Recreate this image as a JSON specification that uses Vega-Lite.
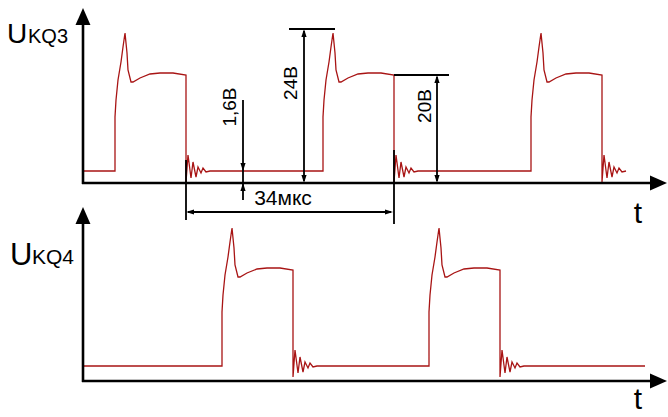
{
  "$schema": "https://vega.github.io/schema/vega-lite/v6.json",
  "width": 668,
  "height": 417,
  "autosize": {"type": "none"},
  "padding": 0,
  "background": "white",
  "config": {"view": {"stroke": null}, "legend": {"disable": true}},
  "datasets": {
    "wave": [
      {"s":"Q3","x":83,"y":171},
      {"s":"Q3","x":115,"y":171},{"s":"Q3","x":115,"y":117},{"s":"Q3","x":116,"y":100},{"s":"Q3","x":118,"y":80},{"s":"Q3","x":121,"y":62},{"s":"Q3","x":123,"y":47},{"s":"Q3","x":125,"y":33},{"s":"Q3","x":127,"y":53},{"s":"Q3","x":128,"y":70},{"s":"Q3","x":131,"y":82},{"s":"Q3","x":133,"y":82},{"s":"Q3","x":140,"y":78},{"s":"Q3","x":150,"y":74},{"s":"Q3","x":160,"y":73},{"s":"Q3","x":173,"y":73},{"s":"Q3","x":186,"y":75},{"s":"Q3","x":186,"y":182},{"s":"Q3","x":188,"y":155},{"s":"Q3","x":191,"y":178},{"s":"Q3","x":193,"y":162},{"s":"Q3","x":196,"y":177},{"s":"Q3","x":198,"y":167},{"s":"Q3","x":201,"y":173},{"s":"Q3","x":203,"y":168},{"s":"Q3","x":206,"y":172},{"s":"Q3","x":210,"y":171},
      {"s":"Q3","x":323,"y":171},{"s":"Q3","x":323,"y":117},{"s":"Q3","x":324,"y":100},{"s":"Q3","x":326,"y":80},{"s":"Q3","x":329,"y":62},{"s":"Q3","x":331,"y":47},{"s":"Q3","x":333,"y":33},{"s":"Q3","x":335,"y":53},{"s":"Q3","x":336,"y":70},{"s":"Q3","x":339,"y":82},{"s":"Q3","x":341,"y":82},{"s":"Q3","x":348,"y":78},{"s":"Q3","x":358,"y":74},{"s":"Q3","x":368,"y":73},{"s":"Q3","x":381,"y":73},{"s":"Q3","x":394,"y":75},{"s":"Q3","x":394,"y":182},{"s":"Q3","x":396,"y":155},{"s":"Q3","x":399,"y":178},{"s":"Q3","x":401,"y":162},{"s":"Q3","x":404,"y":177},{"s":"Q3","x":406,"y":167},{"s":"Q3","x":409,"y":173},{"s":"Q3","x":411,"y":168},{"s":"Q3","x":414,"y":172},{"s":"Q3","x":418,"y":171},
      {"s":"Q3","x":531,"y":171},{"s":"Q3","x":531,"y":117},{"s":"Q3","x":532,"y":100},{"s":"Q3","x":534,"y":80},{"s":"Q3","x":537,"y":62},{"s":"Q3","x":539,"y":47},{"s":"Q3","x":541,"y":33},{"s":"Q3","x":543,"y":53},{"s":"Q3","x":544,"y":70},{"s":"Q3","x":547,"y":82},{"s":"Q3","x":549,"y":82},{"s":"Q3","x":556,"y":78},{"s":"Q3","x":566,"y":74},{"s":"Q3","x":576,"y":73},{"s":"Q3","x":589,"y":73},{"s":"Q3","x":602,"y":75},{"s":"Q3","x":602,"y":182},{"s":"Q3","x":604,"y":155},{"s":"Q3","x":607,"y":178},{"s":"Q3","x":609,"y":162},{"s":"Q3","x":612,"y":177},{"s":"Q3","x":614,"y":167},{"s":"Q3","x":617,"y":173},{"s":"Q3","x":619,"y":168},{"s":"Q3","x":622,"y":172},{"s":"Q3","x":626,"y":171},
      {"s":"Q4","x":83,"y":366},
      {"s":"Q4","x":222,"y":366},{"s":"Q4","x":222,"y":312},{"s":"Q4","x":223,"y":295},{"s":"Q4","x":225,"y":275},{"s":"Q4","x":228,"y":257},{"s":"Q4","x":230,"y":242},{"s":"Q4","x":232,"y":228},{"s":"Q4","x":234,"y":248},{"s":"Q4","x":235,"y":265},{"s":"Q4","x":238,"y":277},{"s":"Q4","x":240,"y":277},{"s":"Q4","x":247,"y":273},{"s":"Q4","x":257,"y":269},{"s":"Q4","x":267,"y":268},{"s":"Q4","x":280,"y":268},{"s":"Q4","x":293,"y":270},{"s":"Q4","x":293,"y":377},{"s":"Q4","x":295,"y":350},{"s":"Q4","x":298,"y":373},{"s":"Q4","x":300,"y":357},{"s":"Q4","x":303,"y":372},{"s":"Q4","x":305,"y":362},{"s":"Q4","x":308,"y":368},{"s":"Q4","x":310,"y":363},{"s":"Q4","x":313,"y":367},{"s":"Q4","x":317,"y":366},
      {"s":"Q4","x":429,"y":366},{"s":"Q4","x":429,"y":312},{"s":"Q4","x":430,"y":295},{"s":"Q4","x":432,"y":275},{"s":"Q4","x":435,"y":257},{"s":"Q4","x":437,"y":242},{"s":"Q4","x":439,"y":228},{"s":"Q4","x":441,"y":248},{"s":"Q4","x":442,"y":265},{"s":"Q4","x":445,"y":277},{"s":"Q4","x":447,"y":277},{"s":"Q4","x":454,"y":273},{"s":"Q4","x":464,"y":269},{"s":"Q4","x":474,"y":268},{"s":"Q4","x":487,"y":268},{"s":"Q4","x":500,"y":270},{"s":"Q4","x":500,"y":377},{"s":"Q4","x":502,"y":350},{"s":"Q4","x":505,"y":373},{"s":"Q4","x":507,"y":357},{"s":"Q4","x":510,"y":372},{"s":"Q4","x":512,"y":362},{"s":"Q4","x":515,"y":368},{"s":"Q4","x":517,"y":363},{"s":"Q4","x":520,"y":367},{"s":"Q4","x":524,"y":366},
      {"s":"Q4","x":645,"y":366}
    ],
    "axes": [
      {"x":83,"y":20,"x2":83,"y2":184},
      {"x":82,"y":183,"x2":655,"y2":183},
      {"x":83,"y":218,"x2":83,"y2":382},
      {"x":82,"y":381,"x2":655,"y2":381}
    ],
    "dims": [
      {"x":243,"y":100,"x2":243,"y2":200},
      {"x":304,"y":31,"x2":304,"y2":181},
      {"x":289,"y":29,"x2":335,"y2":29},
      {"x":437,"y":77,"x2":437,"y2":181},
      {"x":394,"y":75,"x2":449,"y2":75},
      {"x":186,"y":160,"x2":186,"y2":220},
      {"x":394,"y":150,"x2":394,"y2":224},
      {"x":188,"y":212,"x2":391,"y2":212}
    ],
    "smallArrows": [
      {"x":243,"y":167,"dir":"down"},
      {"x":243,"y":187,"dir":"up"},
      {"x":304,"y":33,"dir":"up"},
      {"x":304,"y":179,"dir":"down"},
      {"x":437,"y":79,"dir":"up"},
      {"x":437,"y":179,"dir":"down"},
      {"x":190,"y":212,"dir":"left"},
      {"x":389,"y":212,"dir":"right"}
    ],
    "bigArrows": [
      {"x":83,"y":16.5,"dir":"bigup"},
      {"x":83,"y":215.5,"dir":"bigup"},
      {"x":658.5,"y":183,"dir":"bigright"},
      {"x":658.5,"y":381,"dir":"bigright"}
    ]
  },
  "layer": [
    {
      "data": {"name": "wave"},
      "mark": {"type": "line", "color": "#a81414", "strokeWidth": 1.3, "interpolate": "linear"},
      "encoding": {
        "x": {"field": "x", "type": "quantitative", "scale": {"domain": [0, 668], "nice": false, "zero": false}, "axis": null},
        "y": {"field": "y", "type": "quantitative", "scale": {"domain": [0, 417], "nice": false, "zero": false, "reverse": true}, "axis": null},
        "detail": {"field": "s", "type": "nominal"},
        "order": {"value": null}
      }
    },
    {
      "data": {"name": "axes"},
      "mark": {"type": "rule", "color": "black", "strokeWidth": 2.6},
      "encoding": {
        "x": {"field": "x", "type": "quantitative"},
        "y": {"field": "y", "type": "quantitative"},
        "x2": {"field": "x2"},
        "y2": {"field": "y2"}
      }
    },
    {
      "data": {"name": "dims"},
      "mark": {"type": "rule", "color": "black", "strokeWidth": 1.8},
      "encoding": {
        "x": {"field": "x", "type": "quantitative"},
        "y": {"field": "y", "type": "quantitative"},
        "x2": {"field": "x2"},
        "y2": {"field": "y2"}
      }
    },
    {
      "data": {"name": "smallArrows"},
      "mark": {"type": "point", "filled": true, "color": "black", "opacity": 1, "size": 64},
      "encoding": {
        "x": {"field": "x", "type": "quantitative"},
        "y": {"field": "y", "type": "quantitative"},
        "shape": {"field": "dir", "type": "nominal", "scale": {"domain": ["up", "down", "left", "right", "bigup", "bigright"], "range": ["M0,-1L-0.65,1L0.65,1Z", "M0,1L-0.65,-1L0.65,-1Z", "M-1,0L1,-0.65L1,0.65Z", "M1,0L-1,-0.65L-1,0.65Z", "M0,-1L-0.88,1L0.88,1Z", "M1,0L-1,-0.88L-1,0.88Z"]}, "legend": null}
      }
    },
    {
      "data": {"name": "bigArrows"},
      "mark": {"type": "point", "filled": true, "color": "black", "opacity": 1, "size": 289},
      "encoding": {
        "x": {"field": "x", "type": "quantitative"},
        "y": {"field": "y", "type": "quantitative"},
        "shape": {"field": "dir", "type": "nominal", "legend": null}
      }
    },
    {
      "data": {"values": [{"label": "U", "x": 7, "y": 43}]},
      "mark": {"type": "text", "font": "Liberation Sans", "fontSize": 28, "align": "left", "baseline": "alphabetic", "color": "black"},
      "encoding": {"x": {"field": "x", "type": "quantitative"}, "y": {"field": "y", "type": "quantitative"}, "text": {"field": "label"}}
    },
    {
      "data": {"values": [{"label": "KQ3", "x": 28, "y": 43}]},
      "mark": {"type": "text", "font": "Liberation Sans", "fontSize": 20, "align": "left", "baseline": "alphabetic", "color": "black"},
      "encoding": {"x": {"field": "x", "type": "quantitative"}, "y": {"field": "y", "type": "quantitative"}, "text": {"field": "label"}}
    },
    {
      "data": {"values": [{"label": "U", "x": 10, "y": 265}]},
      "mark": {"type": "text", "font": "Liberation Sans", "fontSize": 31, "align": "left", "baseline": "alphabetic", "color": "black"},
      "encoding": {"x": {"field": "x", "type": "quantitative"}, "y": {"field": "y", "type": "quantitative"}, "text": {"field": "label"}}
    },
    {
      "data": {"values": [{"label": "KQ4", "x": 32, "y": 264}]},
      "mark": {"type": "text", "font": "Liberation Sans", "fontSize": 21, "align": "left", "baseline": "alphabetic", "color": "black"},
      "encoding": {"x": {"field": "x", "type": "quantitative"}, "y": {"field": "y", "type": "quantitative"}, "text": {"field": "label"}}
    },
    {
      "data": {"values": [{"label": "34мкс", "x": 283, "y": 205}]},
      "mark": {"type": "text", "font": "Liberation Sans", "fontSize": 21, "align": "center", "baseline": "alphabetic", "color": "black"},
      "encoding": {"x": {"field": "x", "type": "quantitative"}, "y": {"field": "y", "type": "quantitative"}, "text": {"field": "label"}}
    },
    {
      "data": {"values": [{"label": "t", "x": 638, "y": 223}, {"label": "t", "x": 638, "y": 409}]},
      "mark": {"type": "text", "font": "Liberation Sans", "fontSize": 30, "align": "center", "baseline": "alphabetic", "color": "black"},
      "encoding": {"x": {"field": "x", "type": "quantitative"}, "y": {"field": "y", "type": "quantitative"}, "text": {"field": "label"}}
    },
    {
      "data": {"values": [{"label": "1,6В", "x": 230, "y": 107}, {"label": "24В", "x": 291, "y": 83}, {"label": "20В", "x": 425, "y": 106}]},
      "mark": {"type": "text", "font": "Liberation Sans", "fontSize": 19, "align": "center", "baseline": "middle", "angle": 270, "color": "black"},
      "encoding": {"x": {"field": "x", "type": "quantitative"}, "y": {"field": "y", "type": "quantitative"}, "text": {"field": "label"}}
    }
  ]
}
